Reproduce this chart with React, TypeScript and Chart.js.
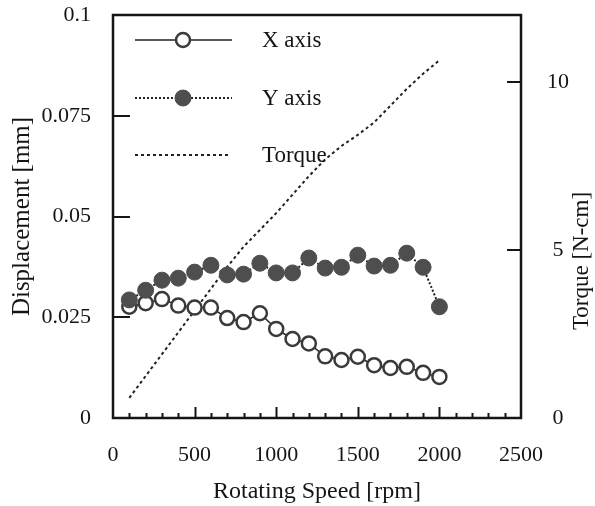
import React, { useEffect, useRef } from "react";
import { Chart, registerables } from "chart.js";

Chart.register(...registerables);

const rpm = [100, 200, 300, 400, 500, 600, 700, 800, 900, 1000, 1100, 1200, 1300, 1400, 1500, 1600, 1700, 1800, 1900, 2000];
const xAxisDisp = [0.0276, 0.0285, 0.0295, 0.0279, 0.0274, 0.0274, 0.0248, 0.0238, 0.026, 0.0221, 0.0196, 0.0185, 0.0153, 0.0144, 0.0152, 0.0131, 0.0124, 0.0127, 0.0112, 0.0102];
const yAxisDisp = [0.0293, 0.0317, 0.0342, 0.0347, 0.0362, 0.0379, 0.0355, 0.0357, 0.0384, 0.036, 0.036, 0.0397, 0.0372, 0.0374, 0.0404, 0.0377, 0.0379, 0.0409, 0.0374, 0.0276];
const torque = [0.6, 1.25, 1.9, 2.55, 3.2, 3.85, 4.5, 5.1, 5.6, 6.1, 6.65, 7.2, 7.7, 8.1, 8.43, 8.8, 9.3, 9.8, 10.25, 10.65];

const seriesLabels = ["X axis", "Y axis", "Torque"];
const xTitle = "Rotating Speed [rpm]";
const yTitle = "Displacement [mm]";
const y2Title = "Torque [N-cm]";
const leftTickValues = [0.025, 0.05, 0.075];
const rightTickValues = [5, 10];
const xMinorStep = 100;

const FONT = "'Liberation Serif', 'Times New Roman', serif";
const INK = "#151515";

const decorPlugin = {
  id: "decor",
  afterDatasetsDraw(chart: any) {
    const { ctx, chartArea, scales } = chart;
    const { left, right, top, bottom } = chartArea;
    ctx.save();
    // ticks
    ctx.strokeStyle = INK;
    ctx.lineWidth = 2;
    ctx.beginPath();
    for (let v = xMinorStep; v < 2500; v += xMinorStep) {
      const px = Math.round(scales.x.getPixelForValue(v)) + 0.5;
      const len = v % 500 === 0 ? 11 : 5;
      ctx.moveTo(px, bottom);
      ctx.lineTo(px, bottom - len);
    }
    for (const v of leftTickValues) {
      const py = Math.round(scales.y.getPixelForValue(v));
      ctx.moveTo(left, py);
      ctx.lineTo(left + 17, py);
    }
    for (const v of rightTickValues) {
      const py = Math.round(scales.y2.getPixelForValue(v));
      ctx.moveTo(right, py);
      ctx.lineTo(right - 14, py);
    }
    ctx.stroke();
    // frame
    ctx.lineWidth = 2.5;
    ctx.strokeRect(left, top, right - left, bottom - top);

    // legend
    const ds = chart.data.datasets;
    const lx0 = left + 22;
    const lx1 = left + 119;
    const cx = left + 70;
    const tx = left + 149;
    const rows = [top + 25, top + 83, top + 140];
    ds.forEach((d: any, i: number) => {
      const y = rows[i];
      ctx.save();
      ctx.strokeStyle = d.borderColor;
      ctx.lineWidth = d.borderWidth;
      ctx.setLineDash(d.borderDash || []);
      ctx.beginPath();
      ctx.moveTo(lx0, y);
      ctx.lineTo(i === 2 ? lx1 - 4 : lx1, y);
      ctx.stroke();
      ctx.setLineDash([]);
      if (d.pointRadius > 0) {
        ctx.beginPath();
        ctx.arc(cx, y, d.pointRadius, 0, Math.PI * 2);
        ctx.fillStyle = d.pointBackgroundColor;
        ctx.fill();
        ctx.lineWidth = d.pointBorderWidth;
        ctx.strokeStyle = d.pointBorderColor;
        ctx.stroke();
      }
      ctx.fillStyle = INK;
      ctx.font = `23px ${FONT}`;
      ctx.textAlign = "left";
      ctx.textBaseline = "middle";
      ctx.fillText(d.label, tx, y + 1);
      ctx.restore();
    });

    // right axis title (reads bottom-to-top)
    ctx.save();
    ctx.translate(582, 261);
    ctx.rotate(-Math.PI / 2);
    ctx.fillStyle = INK;
    ctx.font = `23px ${FONT}`;
    ctx.textAlign = "center";
    ctx.textBaseline = "middle";
    ctx.fillText(y2Title, 0, 0);
    ctx.restore();

    ctx.restore();
  },
};

export default function App() {
  const canvasRef = useRef<HTMLCanvasElement | null>(null);

  useEffect(() => {
    const canvas = canvasRef.current;
    if (!canvas) return;
    const chart = new Chart(canvas, {
      type: "line",
      data: {
        datasets: [
          {
            label: seriesLabels[0],
            data: rpm.map((r, i) => ({ x: r, y: xAxisDisp[i] })),
            yAxisID: "y",
            borderColor: "#222",
            borderWidth: 1.5,
            pointRadius: 7,
            pointBorderWidth: 2.5,
            pointBackgroundColor: "#ffffff",
            pointBorderColor: "#3a3a3a",
            tension: 0,
            order: 2,
          },
          {
            label: seriesLabels[1],
            data: rpm.map((r, i) => ({ x: r, y: yAxisDisp[i] })),
            yAxisID: "y",
            borderColor: "#222",
            borderWidth: 2,
            borderDash: [2, 2],
            pointRadius: 8,
            pointBorderWidth: 1,
            pointBackgroundColor: "#4e4e4e",
            pointBorderColor: "#4e4e4e",
            tension: 0,
            order: 1,
          },
          {
            label: seriesLabels[2],
            data: rpm.map((r, i) => ({ x: r, y: torque[i] })),
            yAxisID: "y2",
            borderColor: "#222",
            borderWidth: 2,
            borderDash: [3, 3],
            pointRadius: 0,
            tension: 0,
            order: 3,
          },
        ] as any,
      },
      options: {
        animation: false,
        responsive: false,
        devicePixelRatio: 1,
        layout: { padding: { top: 15, left: 0, right: 0, bottom: 0 } },
        plugins: { legend: { display: false }, tooltip: { enabled: false } },
        scales: {
          x: {
            type: "linear",
            position: "bottom",
            min: 0,
            max: 2500,
            grid: { display: false, drawTicks: false },
            border: { display: false },
            ticks: {
              stepSize: 500,
              padding: 24,
              maxRotation: 0,
              autoSkip: false,
              color: INK,
              font: { family: FONT, size: 22 },
              callback: (v: any) => String(v),
            },
            title: {
              display: true,
              text: xTitle,
              color: INK,
              font: { family: FONT, size: 24 },
              padding: { top: 0, bottom: 0 },
            },
            afterFit: (s: any) => {
              s.height = 88;
              s.paddingLeft = 0;
              s.paddingRight = 0;
            },
          },
          y: {
            type: "linear",
            position: "left",
            min: 0,
            max: 0.1,
            grid: { display: false, drawTicks: false },
            border: { display: false },
            ticks: {
              stepSize: 0.025,
              padding: 22,
              color: INK,
              font: { family: FONT, size: 22 },
              callback: (v: any) => String(+Number(v).toFixed(3)),
            },
            title: {
              display: true,
              text: yTitle,
              color: INK,
              font: { family: FONT, size: 25 },
              padding: { top: 7, bottom: 0 },
            },
            afterFit: (s: any) => {
              s.width = 113;
              s.paddingTop = 0;
              s.paddingBottom = 0;
            },
          },
          y2: {
            type: "linear",
            position: "right",
            min: 0,
            max: 12,
            grid: { display: false, drawTicks: false },
            border: { display: false },
            ticks: {
              stepSize: 5,
              padding: 26,
              crossAlign: "center",
              color: INK,
              font: { family: FONT, size: 22 },
            },
            afterBuildTicks: (s: any) => {
              s.ticks = s.ticks.filter((t: any) => t.value % 5 === 0);
            },
            afterFit: (s: any) => {
              s.width = 74;
              s.paddingTop = 0;
              s.paddingBottom = 0;
            },
          },
        },
      } as any,
      plugins: [decorPlugin],
    });
    return () => chart.destroy();
  }, []);

  return (
    <div style={{ position: "absolute", left: 0, top: 0, width: 595, height: 506, background: "#fff" }}>
      <canvas ref={canvasRef} width={595} height={506} style={{ width: 595, height: 506, display: "block" }} />
    </div>
  );
}
